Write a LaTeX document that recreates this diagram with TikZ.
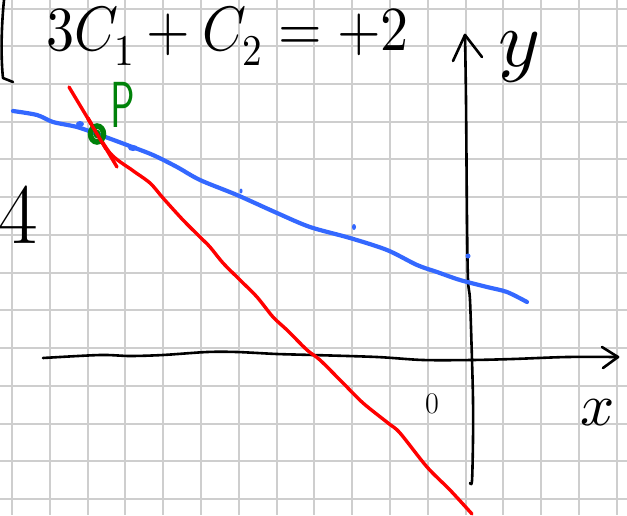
\documentclass[tikz,border=0pt]{standalone}
\usepackage{unicode-math}
\definecolor{gridgray}{RGB}{206,206,206}
\definecolor{penblue}{RGB}{52,104,255}
\definecolor{penred}{RGB}{255,0,0}
\definecolor{pengreen}{RGB}{0,130,10}
\tikzset{
  gridline/.style={draw=gridgray,line width=2pt},
  axisline/.style={draw=black,line width=2.6pt,line cap=round,line join=round},
  blueline/.style={draw=penblue,line width=4.2pt,line cap=round,line join=round},
  redline/.style={draw=penred,line width=3.4pt,line cap=round,line join=round},
  greenmark/.style={draw=pengreen,line width=5.5pt},
  handtext/.style={inner sep=0pt,outer sep=0pt}
}
\begin{document}
\begin{tikzpicture}[x=1pt,y=-1pt]
\useasboundingbox (0,0) rectangle (627,515);
\fill[white] (0,0) rectangle (627,515);
% grid
\foreach \i in {0,...,16} \draw[gridline] ({12+37.8*\i},0) -- ({12+37.8*\i},515);
\foreach \j in {0,...,13} \draw[gridline] (0,{8.6+37.72*\j}) -- (627,{8.6+37.72*\j});
% left bracket
\draw[axisline] (4,0) .. controls (1,30) and (1,60) .. (3,78) -- (13,82);
% equation
\node[handtext,anchor=base west] (eq) at (46,50) {\fontsize{56}{60}\selectfont\scalebox{1}[1.12]{$3C_1+C_2=+2$}};
% the 4 at left
\node[handtext,anchor=base east] (four) at (38,243) {\fontsize{86}{90}\selectfont 4};
% axes
\draw[axisline] plot[smooth] coordinates {(43,358)(100,355)(130,356)(163,355)(207,352)(237,352)(277,354)(313,355)(377,357)(423,360)(472,360)(513,359)(567,357)(618,357)};
\coordinate (xtip) at (618,357);
\draw[axisline] (602,347) -- (xtip) -- (603,368);
\draw[axisline] plot[smooth] coordinates {(470,483)(472,481)(473,440)(473,400)(472,360)(470,300)(468,280)(467,220)(466,100)(465,35)};
\coordinate (ytip) at (465,35);
\draw[axisline] (453,61) -- (ytip) -- (482,57);
% axis labels
\node[handtext,anchor=base] (ylab) at (519,66) {\fontsize{80}{84}\selectfont $y$};
\node[handtext,anchor=base] (xlab) at (598,425) {\fontsize{60}{62}\selectfont $x$};
\node[handtext,anchor=base] (zero) at (432,413) {\fontsize{30}{32}\selectfont 0};
% blue line
\draw[blueline] plot[smooth] coordinates {(13,111)(37,115)(53,122)(77,127)(100,135)(127,145)(153,155)(177,167)(200,180)(237,195)(277,213)(310,227)(350,238)(387,250)(417,265)(437,272)(460,280)(487,287)(507,292)(527,302)};
\fill[penblue] (80,124) ellipse[x radius=4,y radius=3];
\fill[penblue] (133,148) ellipse[x radius=5,y radius=3];
\fill[penblue] (241,191) ellipse[x radius=1.5,y radius=2.5];
\fill[penblue] (354,227) ellipse[x radius=2,y radius=3];
\fill[penblue] (468,256) circle[radius=2.5];
% red lines
\draw[redline] (69,87) -- (117,167);
\draw[redline] plot[smooth] coordinates {(88,118)(110,153)(132,170)(150,183)(163,198)(183,220)(200,237)(210,247)(223,263)(240,280)(257,297)(273,317)(287,330)(307,350)(320,360)(343,383)(363,403)(388,423)(400,433)(427,467)(450,490)(472,514)};
% point P
\coordinate (P) at (97,134);
\draw[greenmark] (P) ellipse[x radius=6.5,y radius=8];
\fill[pengreen] (P) ellipse[x radius=3.5,y radius=4.5];
\draw[redline] (88,119) -- (106,149);
\node[handtext,anchor=base,text=pengreen] (plab) at (123,127) {\fontsize{62}{66}\selectfont\scalebox{0.66}[1.05]{\sffamily P}};
\end{tikzpicture}
\end{document}
